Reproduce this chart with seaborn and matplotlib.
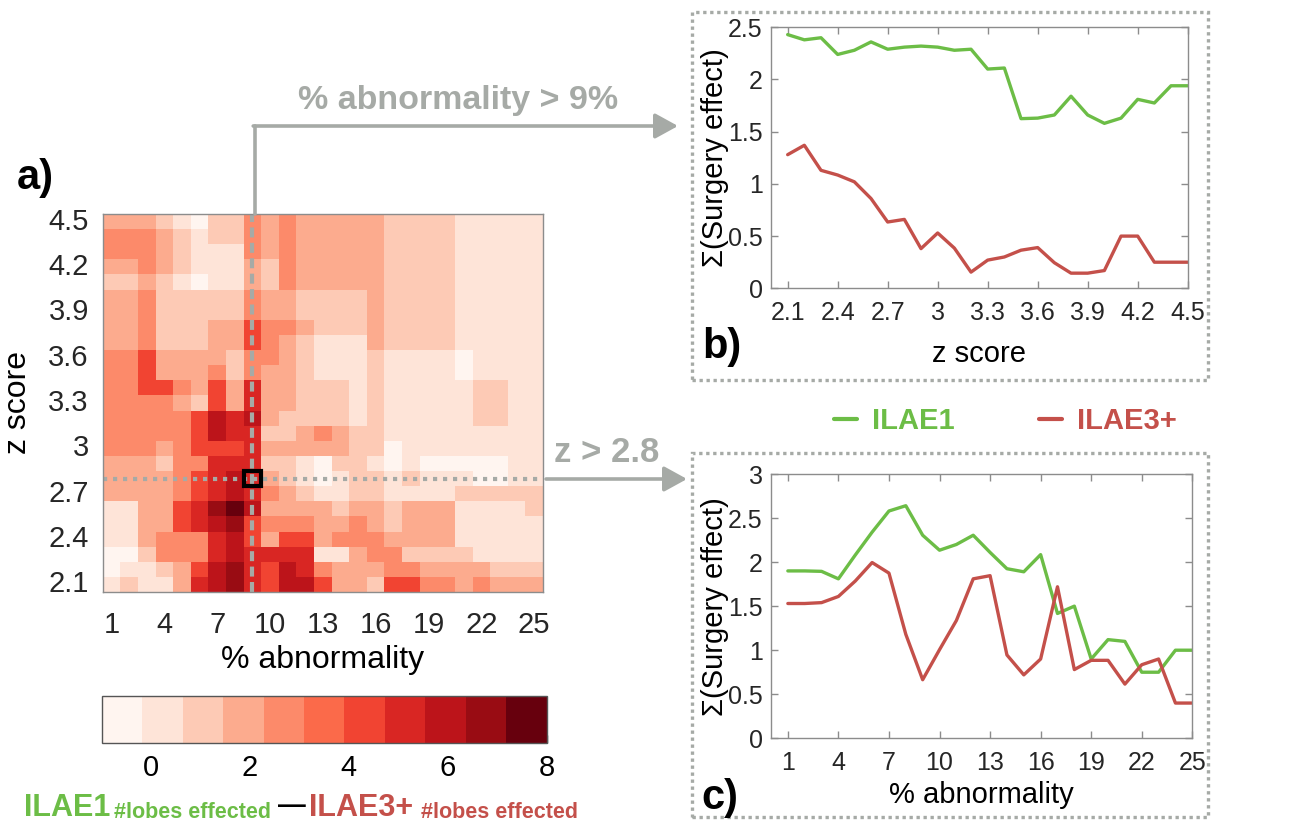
import numpy as np
import pandas as pd
import matplotlib
matplotlib.use("Agg")
import matplotlib as mpl
import matplotlib.pyplot as plt
import seaborn as sns
from matplotlib.patches import Rectangle, FancyArrowPatch
from matplotlib.lines import Line2D

sns.set_theme(style="white")
plt.rcParams["font.family"] = ["Liberation Sans", "DejaVu Sans"]

W, H = 1313, 825

# ---- data ----
abnormality = [1, 2, 3, 4, 5, 6, 7, 8, 9, 10, 11, 12, 13, 14, 15, 16, 17,
               18, 19, 20, 21, 22, 23, 24, 25]
z_scores = [2.1, 2.2, 2.3, 2.4, 2.5, 2.6, 2.7, 2.8, 2.9, 3.0, 3.1, 3.2, 3.3,
            3.4, 3.5, 3.6, 3.7, 3.8, 3.9, 4.0, 4.1, 4.2, 4.3, 4.4, 4.5]

# heatmap, read as colour class (0..10) per cell, rows from z=4.5 down to 2.1
diff_bins = [
    [3, 3, 3, 2, 1, 0, 2, 2, 4, 3, 4, 3, 3, 3, 3, 3, 2, 2, 2, 2, 1, 1, 1, 1, 1],
    [4, 4, 4, 3, 2, 1, 2, 2, 4, 3, 4, 3, 3, 3, 3, 3, 2, 2, 2, 2, 1, 1, 1, 1, 1],
    [4, 4, 4, 3, 2, 1, 1, 1, 4, 3, 4, 3, 3, 3, 3, 3, 2, 2, 2, 2, 1, 1, 1, 1, 1],
    [3, 3, 4, 3, 2, 1, 1, 1, 3, 2, 4, 3, 3, 3, 3, 3, 2, 2, 2, 2, 1, 1, 1, 1, 1],
    [2, 2, 3, 2, 1, 0, 1, 1, 3, 2, 4, 3, 3, 3, 3, 3, 2, 2, 2, 2, 1, 1, 1, 1, 1],
    [3, 3, 4, 2, 2, 2, 2, 2, 4, 3, 3, 2, 2, 2, 2, 3, 2, 2, 2, 2, 1, 1, 1, 1, 1],
    [3, 3, 4, 2, 2, 2, 2, 2, 4, 3, 3, 2, 2, 2, 2, 3, 2, 2, 2, 2, 1, 1, 1, 1, 1],
    [3, 3, 4, 2, 2, 2, 3, 3, 6, 4, 4, 3, 2, 2, 2, 3, 2, 2, 2, 2, 1, 1, 1, 1, 1],
    [3, 3, 4, 2, 2, 2, 3, 3, 6, 4, 3, 2, 1, 1, 1, 3, 2, 2, 2, 2, 1, 1, 1, 1, 1],
    [4, 4, 6, 3, 3, 3, 3, 2, 4, 4, 3, 2, 1, 1, 1, 2, 1, 1, 1, 1, 0, 1, 1, 1, 1],
    [4, 4, 6, 3, 3, 3, 4, 2, 4, 3, 3, 2, 1, 1, 1, 2, 1, 1, 1, 1, 0, 1, 1, 1, 1],
    [4, 4, 6, 6, 4, 3, 6, 3, 7, 3, 3, 2, 2, 2, 1, 2, 1, 1, 1, 1, 1, 2, 2, 1, 1],
    [4, 4, 4, 4, 3, 2, 6, 3, 7, 3, 3, 2, 2, 2, 1, 2, 1, 1, 1, 1, 1, 2, 2, 1, 1],
    [4, 4, 4, 4, 4, 6, 8, 7, 8, 3, 2, 2, 2, 2, 1, 2, 1, 1, 1, 1, 1, 2, 2, 1, 1],
    [4, 4, 4, 4, 4, 6, 8, 7, 7, 2, 2, 3, 4, 3, 2, 2, 1, 1, 1, 1, 1, 1, 1, 1, 1],
    [4, 4, 4, 3, 4, 6, 6, 6, 7, 3, 3, 3, 3, 3, 2, 2, 0, 1, 1, 1, 1, 1, 1, 1, 1],
    [3, 3, 3, 2, 4, 4, 7, 7, 7, 2, 2, 1, 0, 2, 2, 1, 0, 1, 0, 0, 0, 0, 0, 1, 1],
    [3, 3, 3, 3, 4, 6, 7, 8, 7, 3, 2, 1, 0, 1, 2, 2, 1, 2, 1, 1, 1, 0, 0, 1, 1],
    [3, 3, 3, 3, 4, 6, 7, 8, 7, 4, 3, 2, 1, 1, 2, 2, 1, 1, 1, 1, 2, 2, 2, 2, 2],
    [1, 1, 3, 3, 6, 7, 9, 10, 8, 3, 3, 3, 3, 2, 3, 3, 2, 3, 3, 3, 1, 1, 1, 1, 2],
    [1, 1, 3, 3, 6, 7, 8, 9, 6, 4, 4, 4, 3, 3, 4, 3, 2, 3, 3, 3, 1, 1, 1, 1, 1],
    [1, 1, 3, 4, 4, 4, 7, 8, 6, 3, 6, 6, 3, 4, 4, 4, 3, 3, 3, 3, 1, 1, 1, 1, 1],
    [0, 0, 2, 4, 4, 4, 7, 8, 7, 7, 7, 7, 1, 1, 3, 4, 4, 2, 2, 2, 2, 1, 1, 1, 1],
    [0, 1, 1, 2, 3, 6, 8, 9, 7, 6, 8, 7, 4, 3, 3, 3, 4, 4, 3, 3, 3, 3, 2, 2, 2],
    [1, 2, 1, 1, 3, 7, 8, 9, 7, 6, 8, 8, 6, 3, 3, 2, 6, 6, 4, 4, 3, 4, 3, 3, 3],
]
cbar_min, cbar_max, n_levels = -1, 8, 11

# b) surgery effect vs z score (abnormality > 9%)
ilae1_b = [2.43, 2.38, 2.40, 2.24, 2.28, 2.36, 2.29, 2.31, 2.32, 2.31, 2.28,
           2.29, 2.10, 2.11, 1.625, 1.63, 1.66, 1.84, 1.66, 1.58, 1.63, 1.81,
           1.775, 1.94, 1.94]
ilae3_b = [1.28, 1.37, 1.13, 1.085, 1.02, 0.86, 0.635, 0.66, 0.38, 0.53,
           0.385, 0.155, 0.27, 0.30, 0.365, 0.39, 0.245, 0.145, 0.145, 0.17,
           0.50, 0.50, 0.25, 0.25, 0.25]

# c) surgery effect vs % abnormality (z > 2.8)
ilae1_c = [1.90, 1.90, 1.895, 1.81, 2.08, 2.34, 2.58, 2.64, 2.305, 2.135,
           2.20, 2.305, 2.11, 1.925, 1.89, 2.085, 1.417, 1.50, 0.90, 1.12,
           1.10, 0.75, 0.75, 1.00, 1.00]
ilae3_c = [1.53, 1.53, 1.54, 1.61, 1.785, 1.995, 1.875, 1.18, 0.665, 1.006,
           1.337, 1.81, 1.846, 0.946, 0.72, 0.90, 1.72, 0.78, 0.885, 0.885,
           0.615, 0.835, 0.90, 0.40, 0.40]

green = "#6cbd46"
red = "#c4504a"
gray = "#a6aaa6"
tick_col = "#262626"


def fx(x):
    return x / W


def fy(y):
    return 1 - y / H


def box_axes(ax, col="#8c8c8c"):
    for sp in ax.spines.values():
        sp.set_visible(True)
        sp.set_color(col)
        sp.set_linewidth(1)


fig = plt.figure(figsize=(W / 100, H / 100), dpi=100)

# ---- a) heatmap ----
ax = fig.add_axes([fx(102.7), fy(592), 440.3 / W, 378 / H])
cax = fig.add_axes([fx(101.7), fy(742.7), 445 / W, 47 / H])

step = (cbar_max - cbar_min) / n_levels
heat = pd.DataFrame([[cbar_min + (b + 0.5) * step for b in row] for row in diff_bins],
                    index=z_scores[::-1], columns=abnormality)
cmap = mpl.colormaps["Reds"].resampled(n_levels)
sns.heatmap(heat, cmap=cmap, vmin=cbar_min, vmax=cbar_max, ax=ax,
            cbar_ax=cax, cbar_kws={"orientation": "horizontal"})

ax.set_xticks(np.arange(0, 25, 3) + 0.5)
ax.set_xticklabels([str(a) for a in abnormality[::3]], rotation=0)
ax.set_yticks(np.arange(0, 25, 3) + 0.5)
ax.set_yticklabels(["4.5", "4.2", "3.9", "3.6", "3.3", "3", "2.7", "2.4", "2.1"],
                   rotation=0)
ax.tick_params(axis="both", which="both", direction="in", length=5, width=1,
               color="#555555", labelsize=21, labelcolor=tick_col,
               bottom=True, top=True, left=True, right=True)
ax.tick_params(axis="x", pad=14)
ax.tick_params(axis="y", pad=10)
box_axes(ax)
ax.set_xlabel("% abnormality", fontsize=23, color="black")
ax.set_ylabel("z score", fontsize=23, color="black")
ax.xaxis.set_label_coords(0.5, -0.14)
ax.yaxis.set_label_coords(-0.158, 0.5)

# selected thresholds
col9 = abnormality.index(9) + 0.5
row28 = z_scores[::-1].index(2.8) + 0.5
ax.axvline(col9, color=gray, lw=3, ls=(0, (2.4, 1.3)))
ax.axhline(row28, color=gray, lw=3, ls=(0, (1, 1.4)))
ax.add_patch(Rectangle((col9 - 0.5, row28 - 0.5), 1, 1, fill=False,
                       ec="black", lw=3, zorder=5))

cbar = ax.collections[0].colorbar
cbar.set_ticks([0, 2, 4, 6, 8])
cax.tick_params(direction="in", length=6, width=1, labelsize=21,
                bottom=True, color="#333333", labelcolor="black", pad=8)
cbar.outline.set_edgecolor("#555555")
cbar.outline.set_linewidth(1)

# ---- b) ----
axb = fig.add_axes([fx(771), fy(288.3), 416.7 / W, 261 / H])
sns.lineplot(x=z_scores, y=ilae1_b, color=green, lw=2.4, ax=axb)
sns.lineplot(x=z_scores, y=ilae3_b, color=red, lw=2.4, ax=axb)
axb.set_xlim(2.0, 4.5)
axb.set_ylim(0, 2.5)
axb.set_xticks(z_scores[::3])
axb.set_xticklabels(["2.1", "2.4", "2.7", "3", "3.3", "3.6", "3.9", "4.2", "4.5"])
axb.set_yticks([0, 0.5, 1, 1.5, 2, 2.5])
axb.set_yticklabels(["0", "0.5", "1", "1.5", "2", "2.5"])
axb.set_xlabel("z score", fontsize=21, color="black")
axb.set_ylabel("\u03a3(Surgery effect)", fontsize=21, color="black")
axb.xaxis.set_label_coords(0.5, -0.2)
axb.yaxis.set_label_coords(-0.1, 0.5)

# ---- c) ----
axc = fig.add_axes([fx(771), fy(738.3), 421.3 / W, 264.3 / H])
sns.lineplot(x=abnormality, y=ilae1_c, color=green, lw=2.4, ax=axc)
sns.lineplot(x=abnormality, y=ilae3_c, color=red, lw=2.4, ax=axc)
axc.set_xlim(0, 25)
axc.set_ylim(0, 3)
axc.set_xticks(abnormality[::3])
axc.set_yticks([0, 0.5, 1, 1.5, 2, 2.5, 3])
axc.set_yticklabels(["0", "0.5", "1", "1.5", "2", "2.5", "3"])
axc.set_xlabel("% abnormality", fontsize=21, color="black")
axc.set_ylabel("\u03a3(Surgery effect)", fontsize=21, color="black")
axc.xaxis.set_label_coords(0.5, -0.16)
axc.yaxis.set_label_coords(-0.099, 0.5)

for a in (axb, axc):
    a.tick_params(axis="both", direction="in", length=5, width=1,
                  color="#8c8c8c", labelsize=18, labelcolor=tick_col,
                  bottom=True, top=True, left=True, right=True)
    a.tick_params(axis="x", pad=9)
    a.tick_params(axis="y", pad=6)
    box_axes(a)

# ---- dotted frames round b and c ----
for (x0, y0, x1, y1) in [(692, 12, 1208, 380), (692, 453, 1208, 817)]:
    fig.add_artist(Rectangle((fx(x0), fy(y1)), (x1 - x0) / W, (y1 - y0) / H,
                             transform=fig.transFigure, fill=False, ec=gray,
                             lw=2.4, ls=(0, (1, 1.1))))

# ---- arrows ----
fig.add_artist(Line2D([fx(255), fx(255)], [fy(214), fy(126)],
                      transform=fig.transFigure, color=gray, lw=2.6))
fig.add_artist(FancyArrowPatch((fx(253.2), fy(126)), (fx(678), fy(126)),
                               transform=fig.transFigure, color=gray, lw=2.6,
                               arrowstyle="-|>,head_length=1.0,head_width=0.55",
                               mutation_scale=14, shrinkA=0, shrinkB=0))
fig.add_artist(FancyArrowPatch((fx(546), fy(479)), (fx(687), fy(479)),
                               transform=fig.transFigure, color=gray, lw=2.6,
                               arrowstyle="-|>,head_length=1.0,head_width=0.55",
                               mutation_scale=14, shrinkA=0, shrinkB=0))
fig.text(fx(458), fy(101), "% abnormality > 9%", color=gray, fontsize=24.5,
         fontweight="bold", ha="center", va="center")
fig.text(fx(607), fy(452), "z > 2.8", color=gray, fontsize=25,
         fontweight="bold", ha="center", va="center")

# ---- legend ----
handles = [Line2D([], [], color=green, lw=3), Line2D([], [], color=red, lw=3)]
leg = fig.legend(handles, ["ILAE1", "ILAE3+"], loc="center",
                 bbox_to_anchor=(fx(1005), fy(421)), ncol=2, frameon=False,
                 handlelength=0.8, handletextpad=0.5, columnspacing=2.9,
                 prop={"weight": "bold", "size": 21})
for t, c in zip(leg.get_texts(), [green, red]):
    t.set_color(c)

# ---- panel letters ----
for x, y, s in [(17, 189, "a)"), (702, 358, "b)"), (701, 809, "c)")]:
    fig.text(fx(x), fy(y), s, fontsize=30, fontweight="bold", color="black",
             ha="left", va="baseline")

# ---- colour bar caption ----
fig.text(fx(24), fy(816), "ILAE1", color=green, fontsize=22, fontweight="bold",
         va="baseline")
fig.text(fx(114), fy(818), "#lobes effected", color=green, fontsize=15.5,
         fontweight="bold", va="baseline")
fig.text(fx(292), fy(806), "\u2014", color="black", fontsize=20,
         fontweight="bold", ha="center", va="center")
fig.text(fx(309), fy(816), "ILAE3+", color=red, fontsize=22, fontweight="bold",
         va="baseline")
fig.text(fx(421), fy(818), "#lobes effected", color=red, fontsize=15.5,
         fontweight="bold", va="baseline")

fig.savefig("out.png", dpi=100)
